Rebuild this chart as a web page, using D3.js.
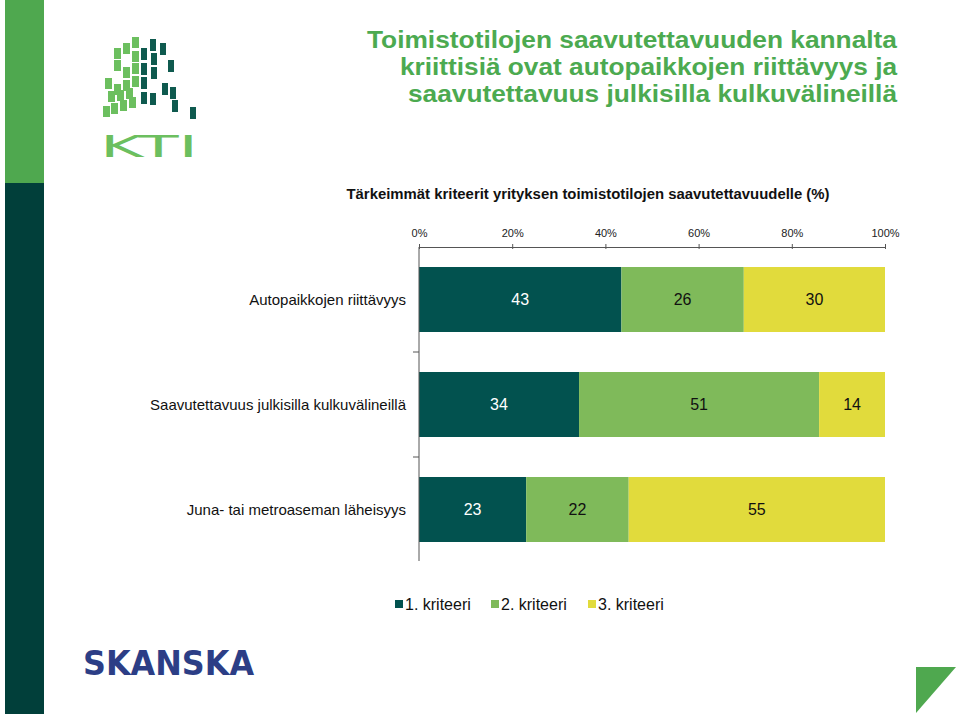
<!DOCTYPE html>
<html><head><meta charset="utf-8">
<script src="https://cdn.jsdelivr.net/npm/d3@7"></script>
<style>
html,body{margin:0;padding:0;background:#fff;}
svg{display:block;font-family:"Liberation Sans",Arial,sans-serif;}
</style></head>
<body><svg id="c" width="960" height="716"></svg>
<script>
const titleLines = ["Toimistotilojen saavutettavuuden kannalta","kriittisiä ovat autopaikkojen riittävyys ja","saavutettavuus julkisilla kulkuvälineillä"];
const chartTitle = "Tärkeimmät kriteerit yrityksen toimistotilojen saavutettavuudelle (%)";
const categories = ["Autopaikkojen riittävyys","Saavutettavuus julkisilla kulkuvälineillä","Juna- tai metroaseman läheisyys"];
const seriesNames = ["1. kriteeri","2. kriteeri","3. kriteeri"];
const kriteeri1 = [43,34,23];
const kriteeri2 = [26,51,22];
const kriteeri3 = [30,14,55];
const tickValues = [0,0.2,0.4,0.6,0.8,1];
const colors = ["#02524f","#7fba5a","#e1db3c"];
const labelColors = ["#ffffff","#111111","#111111"];

const svg = d3.select("#c");

// decorative stripe
svg.append("rect").attr("x",5).attr("y",0).attr("width",39).attr("height",183).attr("fill","#4fa84f");
svg.append("rect").attr("x",5).attr("y",183).attr("width",39).attr("height",531).attr("fill","#013f3a");

// KTI logo
const light = [[114,48],[123,43],[132,37],[114,60],[132,51],[123,67],[132,63],[105,78],[114,84],[123,80],[132,76],[103,106],[111,103],[120,100],[129,97],[108,91],[117,90],[126,88]];
const dark = [[150,39],[160,43],[141,48],[151,53],[168,60],[141,63],[151,67],[141,77],[162,83],[170,87],[141,92],[150,93],[172,100],[190,107]];
const logo = svg.append("g");
logo.selectAll(".l").data(light).join("rect").attr("x",d=>d[0]).attr("y",d=>d[1]).attr("width",7).attr("height",11).attr("fill","#6cbf5f");
logo.selectAll(".d").data(dark).join("rect").attr("x",d=>d[0]).attr("y",d=>d[1]).attr("width",6).attr("height",12).attr("fill","#0f5a4f");
logo.append("text").attr("x",100).attr("y",157).attr("font-size",31).attr("fill","#6cbf5f")
  .attr("font-family","DejaVu Sans, sans-serif").attr("font-weight","normal")
  .attr("textLength",98).attr("lengthAdjust","spacingAndGlyphs").text("KTI");

// Title
svg.append("g").selectAll("text").data(titleLines).join("text")
  .attr("x",897).attr("y",(d,i)=>48+i*27).attr("text-anchor","end")
  .attr("font-size",24).attr("font-weight","bold").attr("fill","#4caa50")
  .attr("textLength",(d,i)=>[530,497,489][i]).attr("lengthAdjust","spacingAndGlyphs")
  .text(d=>d);

// Chart title
svg.append("text").attr("x",588).attr("y",199).attr("text-anchor","middle")
  .attr("font-size",14).attr("font-weight","bold").attr("fill","#111")
  .attr("textLength",483).attr("lengthAdjust","spacingAndGlyphs").text(chartTitle);

// Data & scales
const rows = categories.map((c,i)=>({cat:c, k0:kriteeri1[i], k1:kriteeri2[i], k2:kriteeri3[i]}));
const keys = ["k0","k1","k2"];
const stacked = d3.stack().keys(keys).offset(d3.stackOffsetExpand)(rows);

const x = d3.scaleLinear().domain([0,1]).range([419,885]);
const y = d3.scaleBand().domain(categories).range([247,562]).paddingInner(0.381).paddingOuter(0.1905);

// bars
const layers = svg.append("g").selectAll("g").data(stacked).join("g").attr("fill",(d,i)=>colors[i]);
layers.selectAll("rect").data(d=>d).join("rect")
  .attr("x",d=>x(d[0])).attr("width",d=>x(d[1])-x(d[0]))
  .attr("y",d=>y(d.data.cat)).attr("height",y.bandwidth());

// value labels
stacked.forEach((layer,li)=>{
  svg.append("g").selectAll("text").data(layer).join("text")
    .attr("x",d=>(x(d[0])+x(d[1]))/2).attr("y",d=>y(d.data.cat)+y.bandwidth()/2)
    .attr("dy","0.36em").attr("text-anchor","middle").attr("font-size",16)
    .attr("fill",labelColors[li]).text(d=>d.data[keys[li]]);
});

// top axis
const xAxis = svg.append("g").attr("transform","translate(0,247)")
  .call(d3.axisTop(x).tickValues(tickValues).tickFormat(d3.format(".0%")).tickSizeInner(4).tickSizeOuter(0).tickPadding(6));
xAxis.select(".domain").attr("stroke","#555");
xAxis.selectAll(".tick line").attr("stroke","#555").attr("y2",-3).attr("y1",2);
xAxis.selectAll(".tick text").attr("font-size",11).attr("fill","#222").attr("font-family","Liberation Sans, Arial, sans-serif");

// left axis line and boundary ticks
svg.append("line").attr("x1",419).attr("x2",419).attr("y1",247).attr("y2",561).attr("stroke","#555");
const bounds = categories.slice(0,-1).map(c=>y(c)+y.bandwidth()+(y.step()-y.bandwidth())/2);
svg.append("g").selectAll("line").data(bounds).join("line")
  .attr("x1",413).attr("x2",419).attr("y1",d=>d).attr("y2",d=>d).attr("stroke","#555");

// category labels
svg.append("g").selectAll("text").data(categories).join("text")
  .attr("x",406).attr("y",d=>y(d)+y.bandwidth()/2).attr("dy","0.36em")
  .attr("text-anchor","end").attr("font-size",15).attr("fill","#111").text(d=>d);

// legend
const legX = [395,491,588];
const leg = svg.append("g").selectAll("g").data(seriesNames).join("g")
  .attr("transform",(d,i)=>`translate(${legX[i]},604)`);
leg.append("rect").attr("x",0).attr("y",-4).attr("width",8).attr("height",8).attr("fill",(d,i)=>colors[i]);
leg.append("text").attr("x",10).attr("dy","0.36em").attr("font-size",16).attr("fill","#111").text(d=>d);

// Skanska
svg.append("text").attr("x",83).attr("y",675).attr("font-size",33).attr("font-weight","bold")
  .attr("font-family","DejaVu Sans, sans-serif").attr("fill","#2c3e86")
  .attr("textLength",171).attr("lengthAdjust","spacingAndGlyphs").text("SKANSKA");

// corner triangle
svg.append("path").attr("d","M916,667L956,667L916,713Z").attr("fill","#4fa84f");
</script></body></html>
